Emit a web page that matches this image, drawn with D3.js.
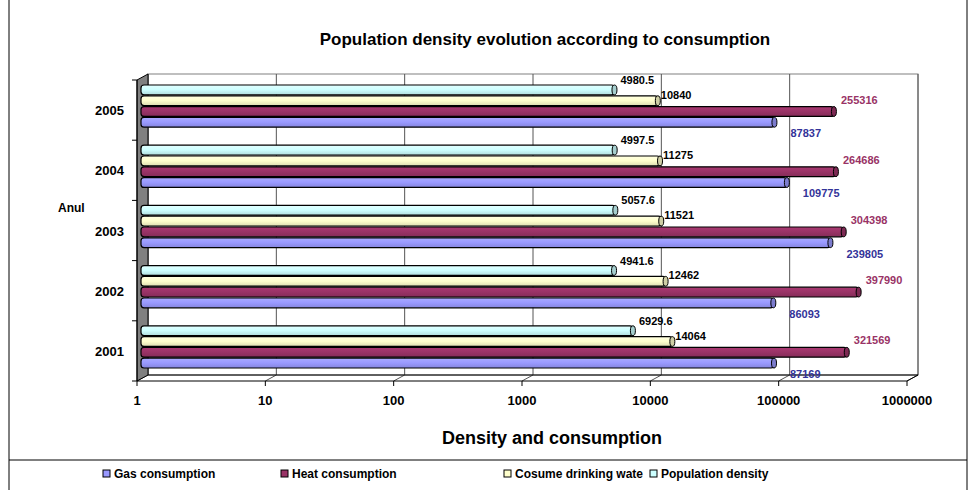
<!DOCTYPE html><html><head><meta charset="utf-8">
<script src="https://cdn.jsdelivr.net/npm/d3@7"></script>
<style>body{margin:0;background:#fff}text{font-family:Arial,"Liberation Sans",sans-serif;font-weight:bold}</style></head><body>
<svg id="c" width="977" height="490"></svg>
<script>
const years=["2001","2002","2003","2004","2005"];
const gas=[87169,86093,239805,109775,87837];
const heat=[321569,397990,304398,264686,255316];
const water=[14064,12462,11521,11275,10840];
const pop=[6929.6,4941.6,5057.6,4997.5,4980.5];
const tickVals=[1,10,100,1000,10000,100000,1000000];
const seriesNames=["Gas consumption","Heat consumption","Cosume drinking wate","Population density"];
const colors=["#9999ff","#993366","#ffffcc","#ccffff"];
const labelColors=["#333399","#993366","#000","#000"];
const svg=d3.select("#c");
const dx=11,dy=-6;
const x=d3.scaleLog().domain([1,1e6]).range([137,907]);
const y=d3.scaleBand().domain(years.slice().reverse()).range([80,381]);
svg.append("line").attr("x1",9).attr("y1",0).attr("x2",9).attr("y2",490).attr("stroke","#000");
svg.append("line").attr("x1",967).attr("y1",0).attr("x2",967).attr("y2",490).attr("stroke","#000");
svg.append("line").attr("x1",9).attr("y1",460).attr("x2",967).attr("y2",460).attr("stroke","#000");
const yTop=80+dy, yBot=381+dy;
svg.append("rect").attr("x",x(1)+dx).attr("y",yTop).attr("width",x(1e6)-x(1)).attr("height",yBot-yTop).attr("fill","#fff").attr("stroke","#808080");
tickVals.forEach(t=>{svg.append("line").attr("x1",x(t)+dx).attr("x2",x(t)+dx).attr("y1",yTop).attr("y2",yBot).attr("stroke","#555");
 svg.append("line").attr("x1",x(t)).attr("x2",x(t)+dx).attr("y1",381).attr("y2",yBot).attr("stroke","#555");
 svg.append("line").attr("x1",x(t)).attr("x2",x(t)).attr("y1",381).attr("y2",386).attr("stroke","#000");
 svg.append("text").attr("x",x(t)).attr("y",405).attr("text-anchor","middle").attr("font-size",13).text(d3.format("d")(t));});
svg.append("polygon").attr("points",`${x(1)},${80} ${x(1)+dx},${yTop} ${x(1)+dx},${yBot} ${x(1)},381`).attr("fill","#808080").attr("stroke","#000");
svg.append("line").attr("x1",x(1)+dx).attr("x2",x(1e6)+dx).attr("y1",yBot).attr("y2",yBot).attr("stroke","#000");
svg.append("line").attr("x1",x(1)).attr("x2",x(1e6)).attr("y1",381).attr("y2",381).attr("stroke","#000");
svg.append("line").attr("x1",x(1e6)).attr("x2",x(1e6)+dx).attr("y1",381).attr("y2",yBot).attr("stroke","#000");
svg.append("line").attr("x1",x(1)).attr("x2",x(1)).attr("y1",80).attr("y2",381).attr("stroke","#000");
d3.range(6).forEach(i=>{const yy=80+i*(301/5);svg.append("line").attr("x1",x(1)-5).attr("x2",x(1)).attr("y1",yy).attr("y2",yy).attr("stroke","#000");});
years.forEach(yr=>svg.append("text").attr("x",124).attr("y",y(yr)+y.bandwidth()/2+5).attr("text-anchor","end").attr("font-size",13).text(yr));
svg.append("text").attr("x",58).attr("y",212).attr("font-size",12).text("Anul");
const all=[gas,heat,water,pop];
const bh=10.8;
const defs=svg.append("defs");
colors.forEach((c,k)=>{const g=defs.append("linearGradient").attr("id","g"+k).attr("x1",0).attr("x2",0).attr("y1",0).attr("y2",1);
 g.append("stop").attr("offset","0").attr("stop-color",d3.color(c).brighter(0.3));g.append("stop").attr("offset","0.5").attr("stop-color",c);g.append("stop").attr("offset","1").attr("stop-color",d3.color(c).darker(0.4));});
years.forEach((yr,i)=>{const y0=y(yr)+5;
 for(let k=3;k>=0;k--){const yb=y0+(3-k)*bh;const v=all[k][i];const xe=x(v)+3;
  svg.append("rect").attr("x",x(1)+4).attr("y",yb).attr("width",xe-x(1)-4).attr("height",bh-1).attr("rx",3).attr("fill",`url(#g${k})`).attr("stroke","#000").attr("stroke-width",1.2);
  svg.append("ellipse").attr("cx",xe).attr("cy",yb+bh/2-0.5).attr("rx",2.5).attr("ry",bh/2-0.5).attr("fill",d3.color(colors[k]).darker(0.6)).attr("stroke","#000").attr("stroke-width",1);
  let lx,ly;
  if(k==0){lx=xe+16;ly=yb+bh+9;} else if(k==1){lx=xe+7;ly=yb-3;} else if(k==2){lx=xe+3;ly=yb+3;} else {lx=xe+6;ly=yb-1;}
  svg.append("text").attr("x",lx).attr("y",ly).attr("font-size",11).attr("fill",labelColors[k]).text(v);
 }});
svg.append("text").attr("x",545).attr("y",45).attr("text-anchor","middle").attr("font-size",17).text("Population density evolution according to consumption");
svg.append("text").attr("x",552).attr("y",444).attr("text-anchor","middle").attr("font-size",18).text("Density and consumption");
const lgx=[103,281,504,650];
seriesNames.forEach((n,k)=>{svg.append("rect").attr("x",lgx[k]).attr("y",470).attr("width",7).attr("height",7).attr("fill",colors[k]).attr("stroke","#000");
 svg.append("text").attr("x",lgx[k]+11).attr("y",478).attr("font-size",12).text(n);});
</script></body></html>
